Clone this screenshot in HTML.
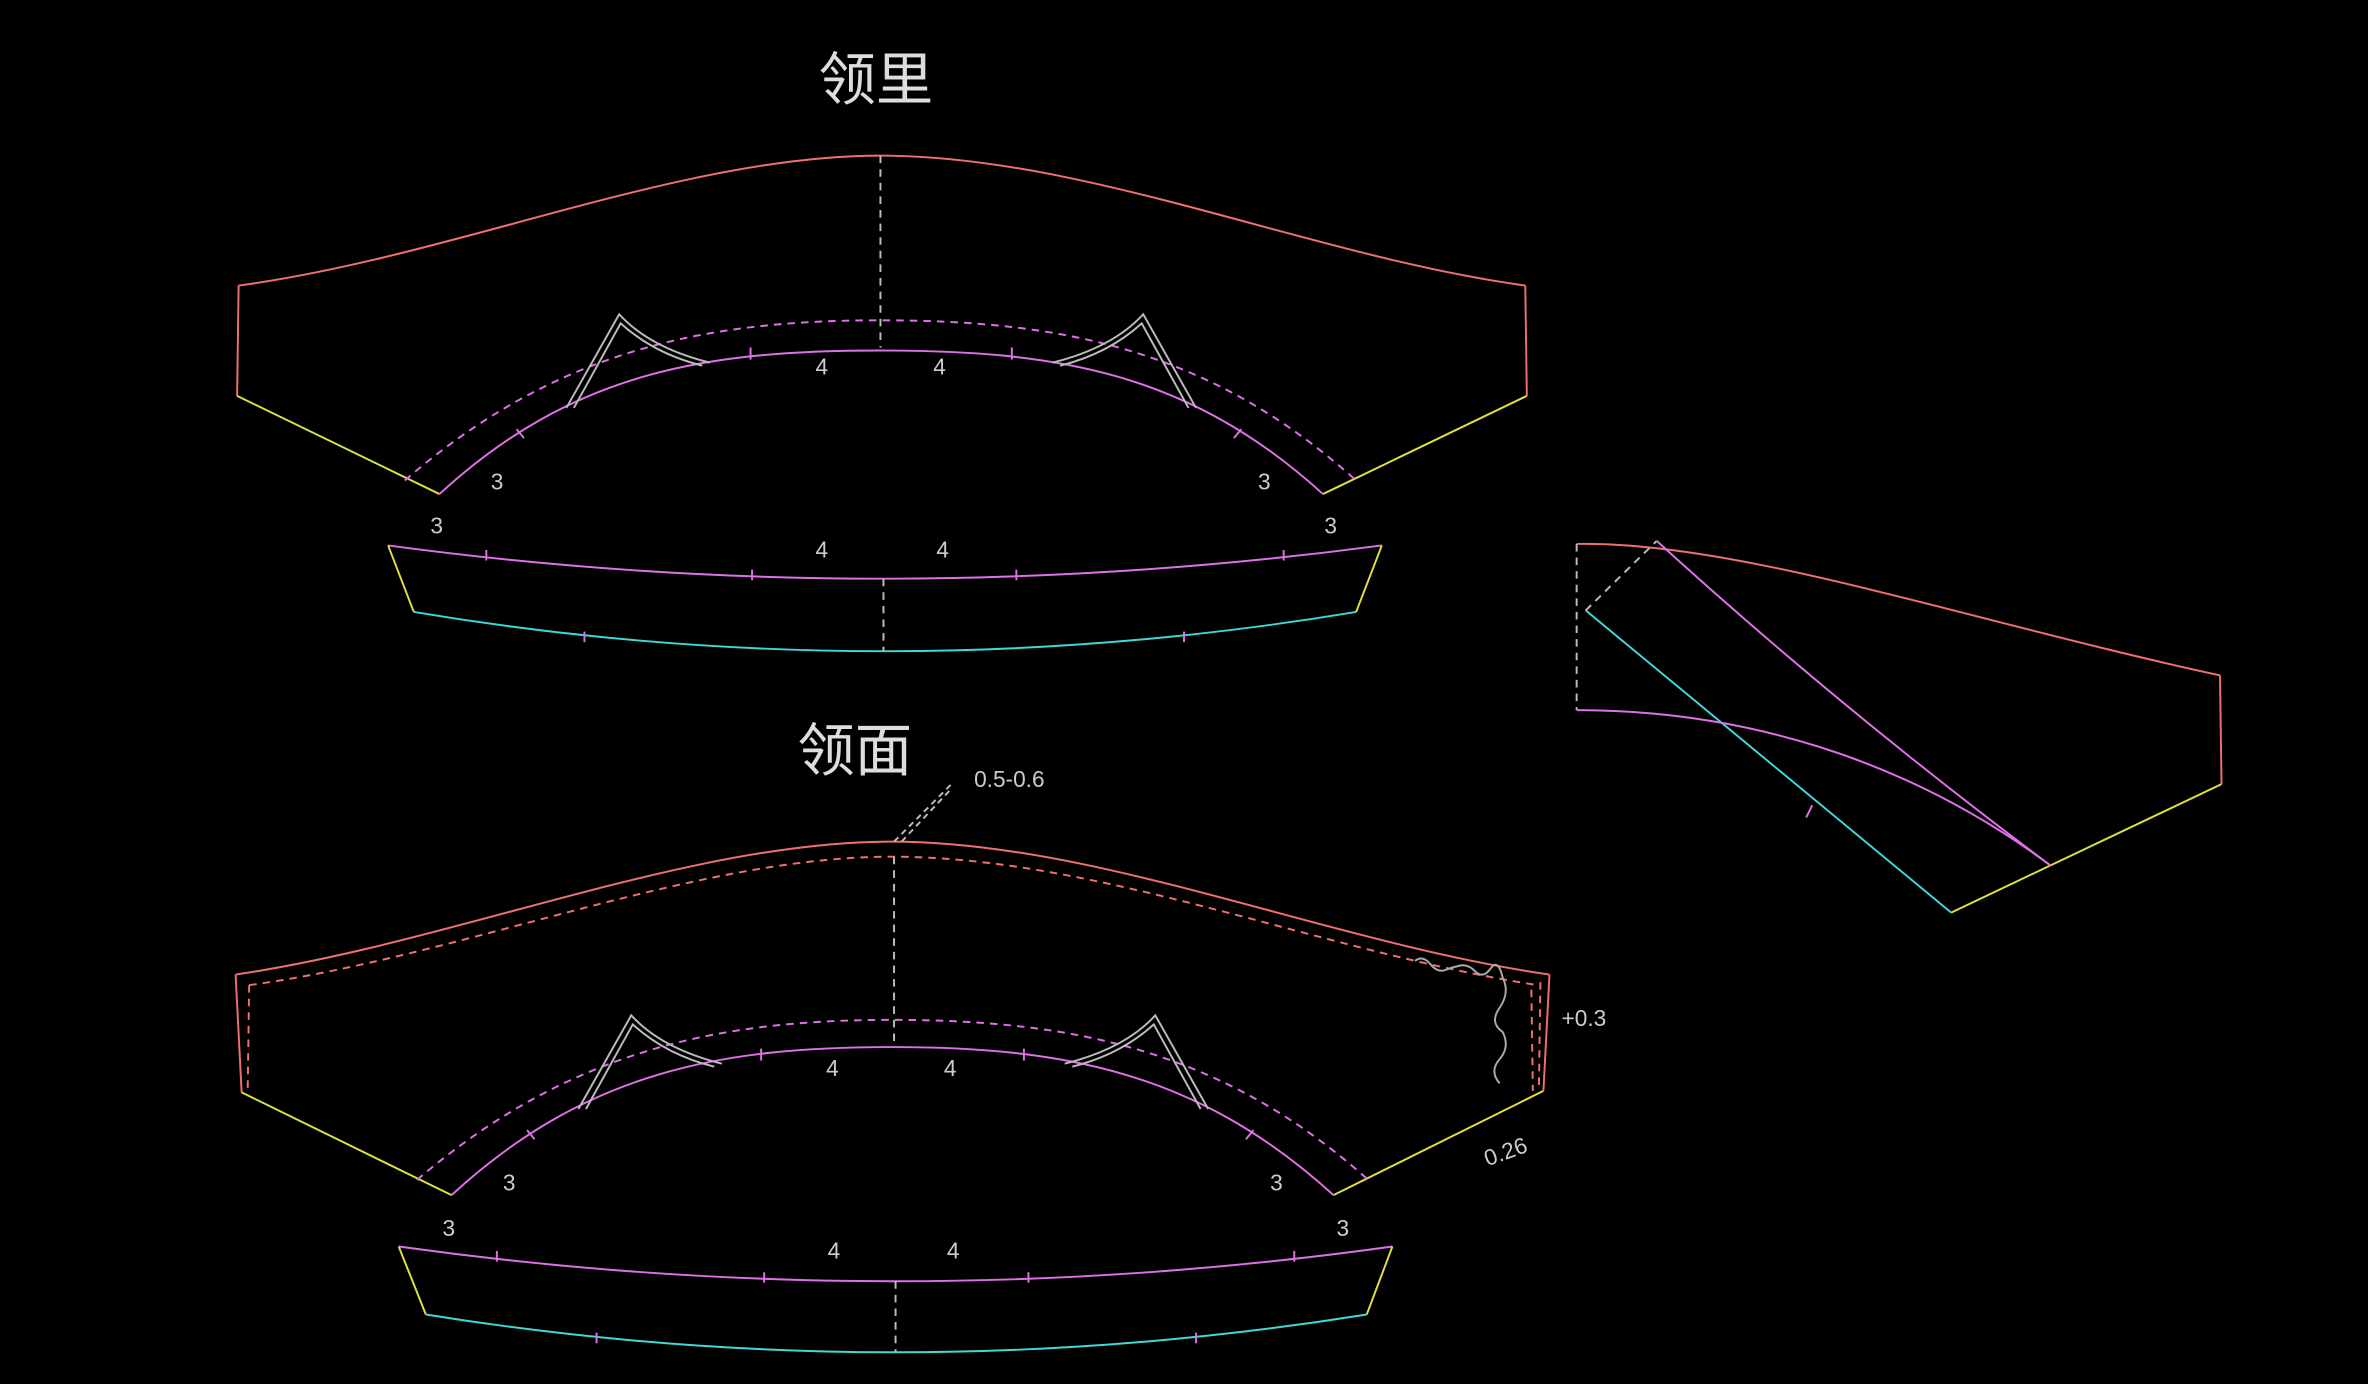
<!DOCTYPE html>
<html><head><meta charset="utf-8"><style>
html,body{margin:0;padding:0;background:#000;width:2368px;height:1384px;overflow:hidden}
svg{display:block}
text{font-family:"Liberation Sans","Noto Sans CJK SC",sans-serif;fill:#ccc}
</style></head><body>
<svg width="2368" height="1384" viewBox="0 0 1568 916" preserveAspectRatio="none">
<rect width="1568" height="916" fill="#000"/>
<g fill="none" stroke-width="1.3">
<!-- TOP PIECE -->
<text x="580" y="66" font-size="38" text-anchor="middle" font-family="Noto Serif CJK SC" style="fill:#ddd">领里</text>
<path d="M158,189 C300,170 450,103 583,103 C720,103 870,170 1010,189" stroke="#f07070"/>
<path d="M158,189 L157,262 M1010,189 L1011,262" stroke="#f07070"/>
<path d="M157,262 L291,327 M1011,262 L876,327" stroke="#e0e040"/>
<path d="M291,327 C380,245 470,232 583,232 C696,232 786,245 876,327" stroke="#e070e8"/>
<path d="M268,318 C370,230 470,212 583,212 C700,212 800,230 898,318" stroke="#e070e8" stroke-dasharray="5,4"/>
<path d="M583,103 L583,230" stroke="#bbb" stroke-dasharray="5,4"/>
<path d="M375,270 L410,208 Q430,230 470,240 M380,270 L411,214 Q433,234 465,242" stroke="#bbb"/>
<path d="M792,270 L757,208 Q737,230 697,240 M787,270 L756,214 Q734,234 702,242" stroke="#bbb"/>
<path d="M497,230 v8 M670,230 v8 M342,284 l5,6 M822,284 l-5,6" stroke="#e070e8"/>
<!-- top band -->
<path d="M257,361 Q583,405 915,361" stroke="#e070e8"/>
<path d="M274,405 Q585,457 898,405" stroke="#40d8d8"/>
<path d="M257,361 L274,405 M915,361 L898,405" stroke="#e0e040"/>
<path d="M585,383 L585,431" stroke="#bbb" stroke-dasharray="5,4"/>
<path d="M322,364 v7 M498,377 v7 M673,377 v7 M850,364 v7 M387,418 v7 M784,418 v7" stroke="#e070e8"/>
<!-- BOTTOM PIECE -->
<text x="566" y="510" font-size="38" text-anchor="middle" font-family="Noto Serif CJK SC" style="fill:#ddd">领面</text>
<path d="M156,645 C300,624 455,557 590,557 C728,557 880,624 1026,645" stroke="#f07070"/>
<path d="M165,652 C305,633 460,567 590,567 C728,567 875,630 1018,652" stroke="#f07070" stroke-dasharray="5,4"/>
<path d="M156,645 L160,723 M1026,645 L1022,722" stroke="#f07070"/>
<path d="M165,652 L164,722 M1014,655 L1015,722 M1020,650 L1019,722" stroke="#f07070" stroke-dasharray="5,4"/>
<path d="M160,723 L299,791 M1022,722 L883,791" stroke="#e0e040"/>
<path d="M299,791 C388,709 478,693 590,693 C703,693 793,709 883,791" stroke="#e070e8"/>
<path d="M276,781 C378,694 478,675 590,675 C708,675 808,694 905,780" stroke="#e070e8" stroke-dasharray="5,4"/>
<path d="M592,567 L592,692" stroke="#bbb" stroke-dasharray="5,4"/>
<path d="M592,557 L630,519" stroke="#bbb" stroke-dasharray="4,3"/>
<path d="M597,557 L630,522" stroke="#bbb" stroke-dasharray="4,3"/>
<path d="M383,734 L418,672 Q438,694 478,704 M388,734 L419,678 Q441,698 473,706" stroke="#bbb"/>
<path d="M800,734 L765,672 Q745,694 705,704 M795,734 L764,678 Q742,698 710,706" stroke="#bbb"/>
<path d="M504,694 v8 M678,694 v8 M349,748 l5,6 M830,748 l-5,6" stroke="#e070e8"/>
<path d="M937,636 q5,-4 10,2 t10,4 t10,-3 t10,4 t10,-2 t8,6 q5,10 -2,20 t2,16 q5,10 -2,18 t0,16" stroke="#aaa"/>
<!-- bottom band -->
<path d="M264,825 Q593,871 922,825" stroke="#e070e8"/>
<path d="M282,870 Q593,920 905,870" stroke="#40d8d8"/>
<path d="M264,825 L282,870 M922,825 L905,870" stroke="#e0e040"/>
<path d="M593,848 L593,895" stroke="#bbb" stroke-dasharray="5,4"/>
<path d="M329,828 v7 M506,842 v7 M681,842 v7 M857,828 v7 M395,882 v7 M792,882 v7" stroke="#e070e8"/>
<!-- RIGHT PIECE -->
<path d="M1044,360 C1150,358 1300,410 1470,447" stroke="#f07070"/>
<path d="M1470,447 L1471,519" stroke="#f07070"/>
<path d="M1471,519 L1292,604" stroke="#e0e040"/>
<path d="M1292,604 L1050,404" stroke="#40d8d8"/>
<path d="M1044,360 L1044,470 M1050,404 L1097,358" stroke="#bbb" stroke-dasharray="5,4"/>
<path d="M1097,358 Q1220,470 1358,573" stroke="#e070e8"/>
<path d="M1044,470 C1150,470 1260,500 1358,573" stroke="#e070e8"/>
<path d="M1196,541 l4,-8" stroke="#e070e8"/>
</g>
<g font-size="15">
<text x="540" y="248">4</text><text x="618" y="248">4</text>
<text x="325" y="324">3</text><text x="833" y="324">3</text>
<text x="285" y="353">3</text><text x="877" y="353">3</text>
<text x="540" y="369">4</text><text x="620" y="369">4</text>
<text x="547" y="712">4</text><text x="625" y="712">4</text>
<text x="333" y="788">3</text><text x="841" y="788">3</text>
<text x="293" y="818">3</text><text x="885" y="818">3</text>
<text x="548" y="833">4</text><text x="627" y="833">4</text>
<text x="645" y="521">0.5-0.6</text>
<text x="1034" y="679">+0.3</text>
<text x="985" y="772" transform="rotate(-20 985 772)">0.26</text>
</g>
</svg>
</body></html>
